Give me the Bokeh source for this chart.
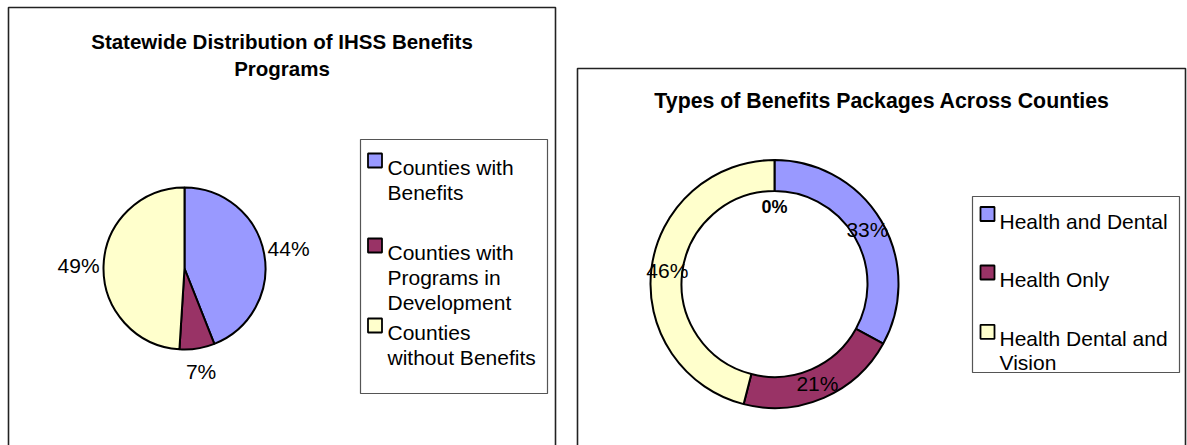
import math
from bokeh.plotting import figure
from bokeh.models import Range1d
from bokeh.core.properties import value
from bokeh.embed import file_html
from bokeh.resources import INLINE

# ---------------- data ----------------
pie_title = ["Statewide Distribution of IHSS Benefits", "Programs"]
pie_categories = ["Counties with\nBenefits",
                  "Counties with\nPrograms in\nDevelopment",
                  "Counties\nwithout Benefits"]
pie_values = [44, 7, 49]

ring_title = "Types of Benefits Packages Across Counties"
ring_categories = ["Health and Dental", "Health Only", "Health Dental and\nVision", ""]
ring_values = [33, 21, 46, 0]

colors = ["#9999FF", "#993366", "#FFFFCC"]

# ---------------- layout (screen pixels, y measured from top) ----------------
W, H = 1187, 445
FONT = value("Liberation Sans")


def Y(v):
    return H - v


p = figure(width=W, height=H, output_backend="svg", toolbar_location=None,
           x_range=Range1d(0, W), y_range=Range1d(0, H), min_border=0,
           outline_line_color=None, background_fill_color="white",
           border_fill_color="white")
p.axis.visible = False
p.xgrid.visible = False
p.ygrid.visible = False

# panel borders
p.quad(left=[8], right=[555], top=[Y(7)], bottom=[Y(460)],
       fill_color=None, line_color="#222222", line_width=1.6)
p.quad(left=[577], right=[1185], top=[Y(68)], bottom=[Y(460)],
       fill_color=None, line_color="#222222", line_width=1.6)


def wedge_angles(vals):
    total = float(sum(vals))
    starts, ends, mids = [], [], []
    cum = 0.0
    for v in vals:
        a0 = cum / total
        cum += v
        a1 = cum / total
        starts.append(math.pi / 2 - 2 * math.pi * a0)
        ends.append(math.pi / 2 - 2 * math.pi * a1)
        mids.append((a0 + a1) / 2 * 2 * math.pi)
    return starts, ends, mids


# ---------------- left: pie ----------------
cx1, cy1, r1 = 184, 268, 81
s, e, m = wedge_angles(pie_values)
p.wedge(x=[cx1] * len(pie_values), y=[Y(cy1)] * len(pie_values), radius=r1,
        start_angle=s, end_angle=e, direction="clock",
        fill_color=colors, line_color="black", line_width=2)
lr = 106
p.text(x=[cx1 + lr * math.sin(a) for a in m],
       y=[Y(cy1) + lr * math.cos(a) + (2 if abs(math.cos(a)) > 0.9 else 0) for a in m],
       text=[f"{v}%" for v in pie_values],
       text_font=FONT, text_font_size="21px", text_color="black",
       text_align="center", text_baseline="middle")

p.text(x=[281.5, 281.5], y=[Y(41), Y(67.5)], text=pie_title,
       text_font=FONT, text_font_size="20.5px", text_font_style="bold",
       text_color="black", text_align="center", text_baseline="alphabetic")

# legend left
p.quad(left=[360], right=[547], top=[Y(139)], bottom=[Y(393)],
       fill_color="white", line_color="#555555", line_width=1.2)
leg1_base = [167, 252, 332]
for i, (lab, col) in enumerate(zip(pie_categories, colors)):
    p.rect(x=[374.5], y=[Y(leg1_base[i] - 7)], width=14, height=14,
           fill_color=col, line_color="black", line_width=1.8)
    lines = lab.split("\n")
    p.text(x=[387] * len(lines),
           y=[Y(leg1_base[i] + j * 25) for j in range(len(lines))],
           text=lines, text_font=FONT, text_font_size="21px",
           text_color="black", text_align="left", text_baseline="alphabetic")

# ---------------- right: doughnut ----------------
cx2, cy2, ri, ro = 774, 283.5, 93, 124
s, e, m = wedge_angles(ring_values)
idx = [i for i, v in enumerate(ring_values) if v > 0]
p.annular_wedge(x=[cx2] * len(idx), y=[Y(cy2)] * len(idx),
                inner_radius=ri, outer_radius=ro,
                start_angle=[s[i] for i in idx], end_angle=[e[i] for i in idx],
                direction="clock", fill_color=[colors[i] for i in idx],
                line_color="black", line_width=2)
for i, v in enumerate(ring_values):
    rr = 108 if v > 0 else 77
    p.text(x=[cx2 + rr * math.sin(m[i])], y=[Y(cy2) + rr * math.cos(m[i])],
           text=[f"{v}%"], text_font=FONT,
           text_font_size="21px" if v > 0 else "18px",
           text_font_style="normal" if v > 0 else "bold",
           text_color="black", text_align="center", text_baseline="middle")

p.text(x=[881.5], y=[Y(100)], text=[ring_title],
       text_font=FONT, text_font_size="21.3px", text_font_style="bold",
       text_color="black", text_align="center", text_baseline="alphabetic")

# legend right
p.quad(left=[972], right=[1179], top=[Y(196)], bottom=[Y(372)],
       fill_color="white", line_color="#555555", line_width=1.2)
leg2_base = [220.5, 279, 338.3]
for i, (lab, col) in enumerate(zip(ring_categories[:3], colors)):
    p.rect(x=[987], y=[Y(leg2_base[i] - 7)], width=14, height=14,
           fill_color=col, line_color="black", line_width=1.8)
    lines = lab.split("\n")
    p.text(x=[999] * len(lines),
           y=[Y(leg2_base[i] + j * 23.4) for j in range(len(lines))],
           text=lines, text_font=FONT, text_font_size="21px",
           text_color="black", text_align="left", text_baseline="alphabetic")

open("out.html", "w").write(file_html(p, INLINE))
